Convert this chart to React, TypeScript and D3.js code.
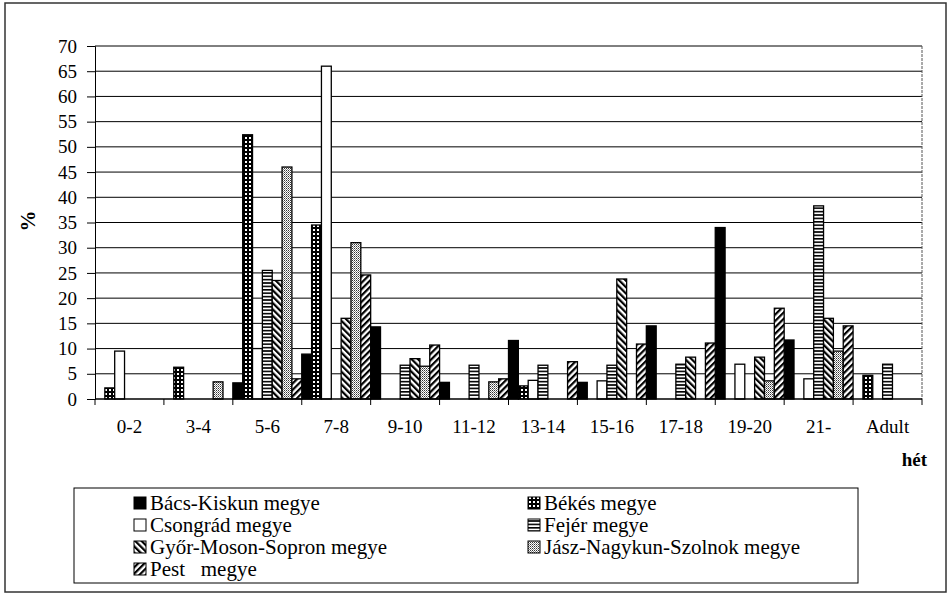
import { useRef, useEffect } from "react";
import { select, scaleBand, scaleLinear, axisLeft, axisBottom, range } from "d3";

const categories = ["0-2", "3-4", "5-6", "7-8", "9-10", "11-12", "13-14", "15-16", "17-18", "19-20", "21-", "Adult"];
const seriesNames = [
  "Bács-Kiskun megye",
  "Békés megye",
  "Csongrád megye",
  "Fejér megye",
  "Győr-Moson-Sopron megye",
  "Jász-Nagykun-Szolnok megye",
  "Pest   megye",
];
const bacsKiskun = [0, 0, 3.2, 8.9, 14.3, 3.3, 11.6, 3.3, 14.5, 34, 11.7, 0];
const bekes = [2.2, 6.3, 52.4, 34.5, 0, 0, 2.6, 0, 0, 0, 0, 4.7];
const csongrad = [9.5, 0, 10, 66, 0, 0, 3.7, 3.6, 0, 6.9, 4, 0];
const fejer = [0, 0, 25.5, 0, 6.7, 6.7, 6.7, 6.7, 6.9, 0, 38.3, 6.9];
const gyor = [0, 0, 23.5, 16, 8, 0, 0, 23.8, 8.3, 8.3, 16, 0];
const jasz = [0, 3.4, 46, 31, 6.5, 3.4, 0, 0, 0, 3.6, 9.5, 0];
const pest = [0, 0, 4, 24.6, 10.7, 4, 7.4, 10.9, 11.1, 18, 14.5, 0];
const yTicks = range(0, 75, 5);

const allSeries = [bacsKiskun, bekes, csongrad, fejer, gyor, jasz, pest];
const fills = ["#000", "url(#pBekes)", "#fff", "url(#pFejer)", "url(#pGyor)", "url(#pJasz)", "url(#pPest)"];

const W = 949, H = 595;
const left = 95, right = 922, top = 46, bottom = 399;
const font = "'Times New Roman', Times, 'Liberation Serif', 'DejaVu Serif', serif";

export default function App() {
  const yAxisRef = useRef(null);
  const xAxisRef = useRef(null);

  const x = scaleBand().domain(categories).range([left, right]).padding(0);
  const inner = scaleBand().domain(seriesNames).range([0, x.bandwidth()]).padding(0);
  const y = scaleLinear().domain([0, 70]).range([bottom, top]);

  useEffect(() => {
    const yAxis = axisLeft(y).tickValues(yTicks).tickSize(8).tickPadding(10);
    const gy = select(yAxisRef.current).call(yAxis);
    gy.attr("font-family", null).attr("font-size", 19);
    gy.selectAll("text").attr("fill", "#000");
    gy.selectAll("line,path").attr("stroke", "#000");

    const xAxis = axisBottom(x).tickSize(0).tickPadding(21);
    const gx = select(xAxisRef.current).call(xAxis);
    gx.attr("font-family", null).attr("font-size", 19);
    gx.select(".domain").remove();
    gx.selectAll("text").attr("fill", "#000");
  }, []);

  const bounds = categories.map((c) => x(c)).concat([right]);

  return (
    <svg width={W} height={H}
      style={{ position: "absolute", left: 0, top: 0, background: "#fff", fontFamily: font }}>
      <defs>
        <pattern id="pBekes" width="4" height="4" patternUnits="userSpaceOnUse">
          <rect width="4" height="4" fill="#000" />
          <rect x="1" y="1" width="2" height="2" fill="#fff" />
        </pattern>
        <pattern id="pFejer" width="4" height="3.4" patternUnits="userSpaceOnUse">
          <rect width="4" height="3.4" fill="#fff" />
          <rect width="4" height="1.6" fill="#000" />
        </pattern>
        <pattern id="pGyor" width="4.5" height="4.5" patternUnits="userSpaceOnUse" patternTransform="rotate(-45)">
          <rect width="4.5" height="4.5" fill="#fff" />
          <rect width="2.2" height="4.5" fill="#000" />
        </pattern>
        <pattern id="pPest" width="4.5" height="4.5" patternUnits="userSpaceOnUse" patternTransform="rotate(45)">
          <rect width="4.5" height="4.5" fill="#fff" />
          <rect width="2.2" height="4.5" fill="#000" />
        </pattern>
        <pattern id="pJasz" width="2" height="2" patternUnits="userSpaceOnUse">
          <rect width="2" height="2" fill="#fff" />
          <rect width="1" height="1" fill="#333" />
          <rect x="1" y="1" width="1" height="1" fill="#888" />
        </pattern>
      </defs>

      <rect x={5} y={3} width={941} height={589} fill="none" stroke="#333" strokeWidth={1.5} />

      {yTicks.filter((t) => t > 0).map((t) => (
        <line key={t} x1={left} x2={right} y1={y(t)} y2={y(t)} stroke="#000" strokeWidth={1} />
      ))}
      <line x1={right} x2={right} y1={top} y2={bottom} stroke="#555" strokeWidth={1} strokeDasharray="3,1" />

      {allSeries.map((vals, si) => (
        <g key={si}>
          {vals.map((v, ci) =>
            v > 0 ? (
              <rect
                key={ci}
                x={x(categories[ci]) + inner(seriesNames[si])}
                y={y(v)}
                width={inner.bandwidth()}
                height={y(0) - y(v)}
                fill={fills[si]}
                stroke="#000"
                strokeWidth={1.3}
              />
            ) : null
          )}
        </g>
      ))}

      <line x1={left} x2={right} y1={bottom} y2={bottom} stroke="#000" strokeWidth={1.5} />
      {bounds.map((b, i) => (
        <line key={i} x1={b} x2={b} y1={bottom} y2={bottom + 6} stroke="#000" strokeWidth={1} />
      ))}
      <g ref={yAxisRef} transform={`translate(${left},0)`} />
      <g ref={xAxisRef} transform={`translate(0,${bottom})`} />

      <text x={30} y={221} transform="rotate(-90,30,221)" textAnchor="middle" dominantBaseline="middle"
        fontSize={21} fontWeight="bold">%</text>
      <text x={927} y={466} textAnchor="end" fontSize={19} fontWeight="bold">hét</text>

      <rect x={74} y={488} width={784} height={95} fill="#fff" stroke="#000" strokeWidth={1} />
      {seriesNames.map((name, i) => {
        const col = i % 2;
        const row = Math.floor(i / 2);
        const sx = col === 0 ? 134 : 528;
        const cy = 503 + row * 22;
        return (
          <g key={name}>
            <rect x={sx} y={cy - 6} width={12} height={12} fill={fills[i]} stroke="#000" strokeWidth={1} />
            <text x={sx + 16} y={cy + 7} fontSize={21} style={{ whiteSpace: "pre" }}>{name}</text>
          </g>
        );
      })}
    </svg>
  );
}
